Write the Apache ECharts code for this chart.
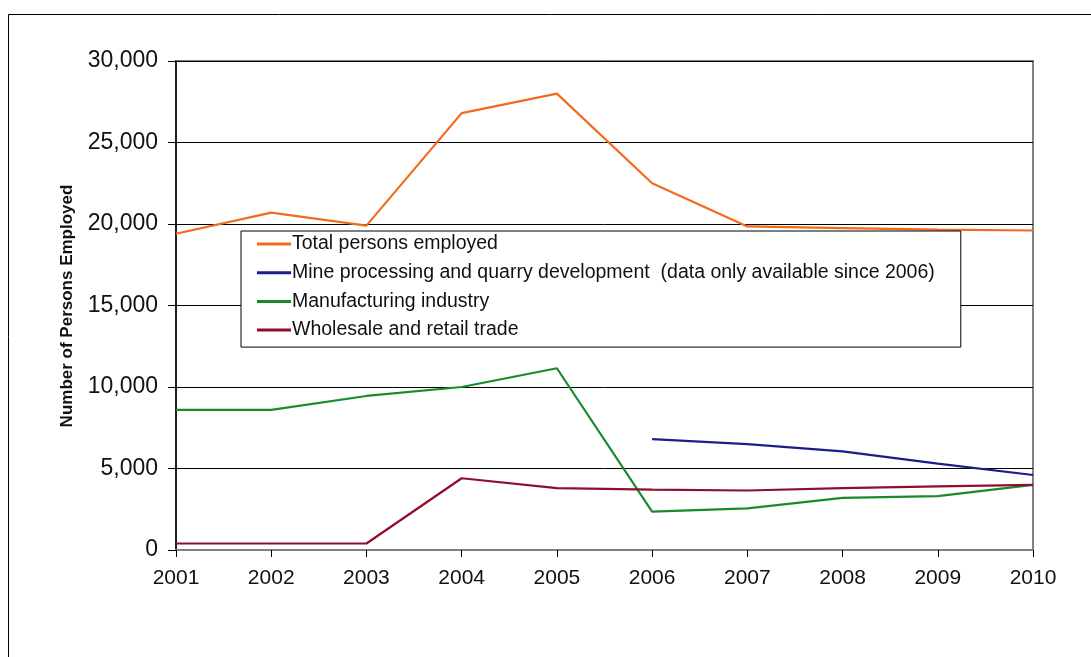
<!DOCTYPE html>
<html>
<head>
<meta charset="utf-8">
<script src="https://cdn.jsdelivr.net/npm/echarts@6/dist/echarts.min.js"></script>
<style>
  html, body { margin: 0; padding: 0; background: #ffffff; }
  #chart { width: 1091px; height: 657px; }
</style>
</head>
<body>
<div id="chart"></div>
<script>
// Years on the horizontal axis
const years = ['2001', '2002', '2003', '2004', '2005', '2006', '2007', '2008', '2009', '2010'];

// Persons employed per sector
const totalEmployed = [19400, 20700, 19900, 26800, 28000, 22500, 19850, 19750, 19650, 19600];
const mineQuarry = [null, null, null, null, null, 6800, 6500, 6050, 5300, 4600];
const manufacturing = [8600, 8600, 9450, 10000, 11150, 2350, 2550, 3200, 3300, 4000];
const wholesaleRetail = [400, 400, 400, 4400, 3800, 3700, 3650, 3800, 3900, 4000];

const seriesNames = [
  'Total persons employed',
  'Mine processing and quarry development  (data only available since 2006)',
  'Manufacturing industry',
  'Wholesale and retail trade'
];
const seriesColors = ['#f26b1d', '#1c1c8a', '#1a8a2a', '#8e0f2c'];
const seriesData = [totalEmployed, mineQuarry, manufacturing, wholesaleRetail];

const yAxisTitle = 'Number of Persons Employed';

const font = '"Liberation Sans", Arial, sans-serif';
const chart = echarts.init(document.getElementById('chart'));

chart.setOption({
  animation: false,
  backgroundColor: '#ffffff',
  grid: {
    left: 176, right: 58, top: 61, bottom: 107,
    show: true, borderColor: '#808080', borderWidth: 2, backgroundColor: 'transparent'
  },
  legend: {
    orient: 'vertical',
    left: 241, top: 231,
    backgroundColor: '#ffffff',
    borderColor: '#000000', borderWidth: 1,
    padding: [3, 26, 7, 16],
    itemWidth: 34, itemHeight: 3, itemGap: 8.7,
    icon: 'rect',
    textStyle: { fontFamily: font, fontSize: 19.5, color: '#111111', padding: [0, 0, 0, -4] },
    data: seriesNames
  },
  xAxis: {
    type: 'category',
    data: years,
    boundaryGap: false,
    axisLine: { lineStyle: { color: '#808080', width: 2 } },
    axisTick: { show: true, alignWithLabel: true, length: 7, lineStyle: { color: '#000000' } },
    axisLabel: { fontFamily: font, fontSize: 21, color: '#111111', margin: 18 }
  },
  yAxis: {
    type: 'value',
    min: 0, max: 30000, interval: 5000,
    axisLine: { show: true, lineStyle: { color: '#000000', width: 1.5 } },
    axisTick: { show: true, inside: false, length: 8, lineStyle: { color: '#000000' } },
    axisLabel: {
      fontFamily: font, fontSize: 23, color: '#111111', margin: 18,
      formatter: v => v.toLocaleString('en-US')
    },
    splitLine: { show: true, lineStyle: { color: '#000000', width: 1 } }
  },
  graphic: [
    {
      type: 'rect', silent: true, z: -10,
      shape: { x: 8.5, y: 14.5, width: 1200, height: 800 },
      style: { fill: 'none', stroke: '#000000', lineWidth: 1 }
    },
    {
      type: 'text', silent: true,
      x: 67, y: 306, rotation: Math.PI / 2,
      style: {
        text: yAxisTitle, fontFamily: font, fontSize: 17, fontWeight: 'bold',
        fill: '#111111', align: 'center', verticalAlign: 'middle'
      }
    }
  ],
  series: seriesNames.map((name, i) => ({
    name: name,
    type: 'line',
    data: seriesData[i],
    symbol: 'none',
    connectNulls: false,
    lineStyle: { color: seriesColors[i], width: 2.2 },
    itemStyle: { color: seriesColors[i] },
    z: 3
  }))
});
</script>
</body>
</html>
